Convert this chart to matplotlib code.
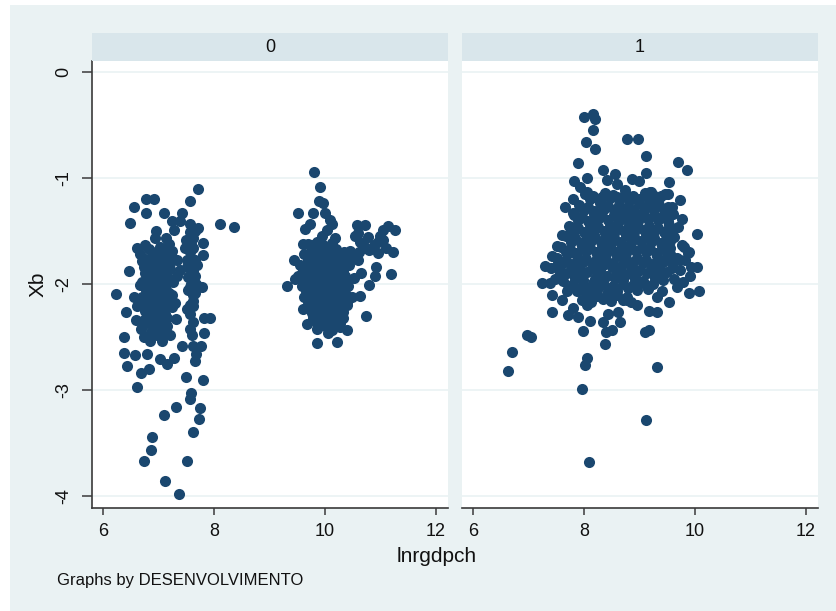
import matplotlib
matplotlib.use("Agg")
import matplotlib.pyplot as plt
from matplotlib.patches import Rectangle

# ---------------- data ----------------
panel_labels = ["0", "1"]
x_ticks = [6, 8, 10, 12]
y_ticks = [0, -1, -2, -3, -4]
x_title = "lnrgdpch"
y_title = "Xb"
note_text = "Graphs by DESENVOLVIMENTO"

# panel "0": low-income cluster (edges / outliers)
x0_left = [7.72, 6.77, 6.92, 7.57, 6.56, 6.78, 7.10, 7.42, 6.49, 8.11, 8.36, 7.24, 7.39, 7.57,
           7.72, 7.27, 6.95, 6.94, 7.14, 7.57, 7.63, 7.81, 6.62, 6.76, 6.82, 7.03, 7.24, 7.48,
           7.63, 7.81, 6.76, 6.97, 7.15, 7.33, 7.51, 7.66, 6.85, 7.03, 7.21, 6.46, 7.39, 6.79,
           6.97, 7.15, 7.33, 7.54, 7.66, 6.67, 6.85, 7.15, 7.57, 7.78, 6.23, 6.55, 6.70, 6.85,
           7.06, 7.24, 7.63, 6.61, 6.79, 6.97, 7.15, 7.30, 7.57, 7.63, 6.41, 6.79, 6.97, 6.59,
           6.73, 6.91, 7.03, 7.32, 7.62, 7.82, 7.93, 7.57, 7.82, 6.38, 6.73, 6.97, 7.21, 7.60,
           6.85, 7.09, 7.06, 7.43, 7.63, 7.76, 6.37, 6.58, 6.79, 6.44, 7.03, 7.15, 7.27, 7.68,
           7.66, 6.68, 6.82, 6.62, 7.50, 7.80, 7.59, 7.57, 7.31, 7.75, 7.73, 7.09, 7.63, 6.89,
           6.87, 6.73, 7.52, 7.11, 7.37]
y0_left = [-1.10, -1.20, -1.20, -1.22, -1.27, -1.33, -1.33, -1.33, -1.42, -1.43, -1.46, -1.41, -1.41, -1.43,
           -1.47, -1.49, -1.50, -1.57, -1.57, -1.51, -1.57, -1.61, -1.66, -1.63, -1.67, -1.65, -1.69, -1.66,
           -1.66, -1.73, -1.76, -1.74, -1.76, -1.77, -1.77, -1.77, -1.84, -1.84, -1.80, -1.88, -1.87, -1.93,
           -1.92, -1.92, -1.92, -1.93, -1.92, -2.01, -2.01, -1.99, -2.03, -2.03, -2.09, -2.12, -2.12, -2.10,
           -2.10, -2.10, -2.10, -2.21, -2.21, -2.20, -2.18, -2.18, -2.20, -2.21, -2.26, -2.29, -2.29, -2.34,
           -2.38, -2.36, -2.37, -2.33, -2.36, -2.32, -2.32, -2.42, -2.46, -2.50, -2.50, -2.48, -2.48, -2.48,
           -2.54, -2.47, -2.54, -2.58, -2.58, -2.58, -2.65, -2.67, -2.66, -2.77, -2.71, -2.75, -2.70, -2.66,
           -2.73, -2.84, -2.80, -2.97, -2.88, -2.91, -3.03, -3.08, -3.16, -3.17, -3.27, -3.24, -3.40, -3.44,
           -3.57, -3.67, -3.67, -3.86, -3.98]
# panel "0": low-income cluster (dense interior)
x0_core = [6.66, 6.74, 6.70, 6.78, 6.72, 6.80, 6.68, 6.88, 6.92, 6.86, 6.94, 6.88, 6.96, 6.90,
           7.02, 7.08, 7.04, 7.10, 7.02, 7.08, 7.04, 7.12, 7.18, 7.22, 7.20, 7.26, 7.18, 7.24,
           7.16, 7.50, 7.56, 7.52, 7.60, 7.54, 7.62, 7.56, 7.66, 7.70, 7.68,
           6.70, 6.76, 6.74, 6.70, 6.76, 6.74, 6.84, 6.90, 6.82, 6.92, 6.84, 6.92, 6.86,
           6.98, 7.00, 6.98, 7.00, 6.96, 7.00, 7.02, 7.12, 7.14, 7.10, 7.14, 7.12, 7.12, 7.16,
           7.58, 7.60, 7.62, 7.58, 7.66, 7.52]
y0_core = [-1.72, -1.84, -1.98, -2.06, -2.18, -2.30, -2.42, -1.70, -1.80, -1.94, -2.04, -2.16, -2.26, -2.40,
           -1.68, -1.78, -1.90, -2.02, -2.14, -2.24, -2.36, -2.44, -1.62, -1.72, -1.86, -1.98, -2.08, -2.22,
           -2.32, -1.58, -1.70, -1.84, -1.96, -2.06, -2.16, -2.28, -1.50, -1.82, -2.00,
           -1.78, -1.90, -2.02, -2.14, -2.25, -2.34, -1.76, -1.88, -2.08, -2.10, -2.24, -2.32, -2.45,
           -1.70, -1.84, -1.97, -2.08, -2.16, -2.32, -2.42, -1.70, -1.84, -1.95, -2.06, -2.16, -2.28, -2.40,
           -1.62, -1.76, -1.88, -2.00, -2.08, -2.24]
# panel "0": high-income cluster (edges / outliers)
x0_right = [9.81, 9.91, 9.90, 9.97, 9.52, 9.79, 10.00, 10.09, 10.12, 9.73, 9.64, 10.03, 10.57, 10.72,
            11.14, 11.26, 11.05, 11.00, 10.60, 10.78, 9.94, 10.18, 9.61, 9.79, 10.63, 10.72, 10.88,
            11.11, 11.23, 10.96, 10.45, 10.51, 10.12, 10.30, 9.45, 10.60, 10.66, 10.92, 10.90, 11.20,
            9.31, 9.46, 9.61, 10.80, 10.64, 9.61, 10.74, 9.67, 9.85, 10.06, 10.21, 10.39,
            10.55, 10.68, 10.62, 10.80, 10.95, 11.05]
y0_right = [-0.94, -1.08, -1.22, -1.24, -1.33, -1.33, -1.33, -1.40, -1.43, -1.43, -1.48, -1.49, -1.44, -1.44,
            -1.45, -1.49, -1.49, -1.55, -1.52, -1.56, -1.55, -1.57, -1.62, -1.63, -1.60, -1.66, -1.63,
            -1.66, -1.70, -1.71, -1.69, -1.74, -1.71, -1.74, -1.77, -1.77, -1.90, -1.84, -1.92, -1.91,
            -2.02, -1.95, -1.84, -2.01, -2.11, -2.24, -2.30, -2.38, -2.56, -2.46, -2.55, -2.43,
            -1.55, -1.62, -1.70, -1.68, -1.60, -1.58]
# panel "0": high-income cluster (dense interior)
x0_hcore = [9.70, 9.85, 9.97, 10.13,
            9.63, 9.75, 9.91, 10.03, 10.19, 10.35,
            9.56, 9.71, 9.83, 9.99, 10.11, 10.27, 10.43,
            9.52, 9.67, 9.79, 9.95, 10.07, 10.23, 10.37, 10.52,
            9.58, 9.73, 9.85, 10.01, 10.13, 10.29, 10.41,
            9.63, 9.75, 9.91, 10.03, 10.19, 10.31, 10.48,
            9.70, 9.85, 9.97, 10.13, 10.25, 10.40,
            9.78, 9.93, 10.05, 10.21, 10.33,
            9.86, 10.01, 10.13, 10.28,
            9.77, 9.91, 10.05, 10.20,
            9.69, 9.83, 9.97, 10.11, 10.26, 10.42,
            9.60, 9.76, 9.90, 10.04, 10.18, 10.33,
            9.62, 9.80, 9.93, 10.08, 10.21, 10.36,
            9.66, 9.79, 9.94, 10.07, 10.22, 10.36,
            9.70, 9.83, 9.97, 10.11, 10.25, 10.40,
            9.77, 9.91, 10.05, 10.19, 10.33,
            9.85, 9.99, 10.13, 10.27]
y0_hcore = [-1.62, -1.60, -1.63, -1.61,
            -1.72, -1.70, -1.73, -1.71, -1.73, -1.70,
            -1.82, -1.80, -1.83, -1.81, -1.83, -1.80, -1.82,
            -1.92, -1.90, -1.93, -1.91, -1.93, -1.90, -1.92, -1.94,
            -2.02, -2.00, -2.03, -2.01, -2.03, -2.00, -2.02,
            -2.12, -2.10, -2.13, -2.11, -2.13, -2.10, -2.12,
            -2.22, -2.20, -2.23, -2.21, -2.23, -2.20,
            -2.32, -2.30, -2.33, -2.31, -2.32,
            -2.42, -2.40, -2.43, -2.41,
            -1.67, -1.66, -1.68, -1.67,
            -1.77, -1.76, -1.78, -1.77, -1.76, -1.78,
            -1.87, -1.86, -1.88, -1.87, -1.86, -1.88,
            -1.97, -1.96, -1.98, -1.97, -1.96, -1.98,
            -2.07, -2.06, -2.08, -2.07, -2.06, -2.08,
            -2.17, -2.16, -2.18, -2.17, -2.16, -2.18,
            -2.27, -2.26, -2.28, -2.27, -2.26,
            -2.37, -2.36, -2.38, -2.37]

# panel "1": edges / outliers
x1_edge = [8.00, 8.16, 8.20, 8.17, 8.04, 8.20, 8.77, 8.97, 9.11, 7.90, 8.35, 8.56, 9.11, 7.82,
           8.05, 8.86, 9.00, 7.93, 8.05, 8.41, 8.59, 8.74, 9.19, 7.80, 7.65, 8.17, 8.32, 8.59,
           7.81, 7.93, 7.84, 7.75, 7.60, 7.51, 7.42, 7.77, 9.69, 9.85, 9.53, 9.21, 9.38, 9.52,
           9.73, 9.31, 9.58, 9.76, 9.47, 10.04, 9.53, 9.76, 9.89, 9.56, 7.30, 7.24, 7.39, 7.54,
           7.57, 7.42, 7.60, 7.69, 7.42, 7.72, 7.90, 7.81, 8.05, 8.10, 7.99, 6.97, 7.04, 6.70,
           6.63, 8.34, 8.40, 8.50, 8.65, 8.38, 8.44, 8.62, 8.05, 8.02, 7.96, 8.09, 9.11, 9.31,
           9.10, 9.18, 9.18, 9.31, 8.95, 8.77, 8.11, 7.99, 9.89, 10.08, 9.54, 9.31, 10.03, 9.91,
           9.79, 9.67, 9.56, 9.88, 9.73]
y1_edge = [-0.42, -0.40, -0.44, -0.55, -0.66, -0.73, -0.63, -0.63, -0.79, -0.86, -0.92, -0.96, -0.95, -1.03,
           -1.00, -1.01, -1.03, -1.08, -1.13, -1.02, -1.06, -1.11, -1.13, -1.20, -1.27, -1.18, -1.18, -1.18,
           -1.33, -1.27, -1.46, -1.46, -1.54, -1.64, -1.74, -1.70, -0.85, -0.92, -1.04, -1.13, -1.17, -1.15,
           -1.21, -1.25, -1.27, -1.39, -1.38, -1.53, -1.54, -1.63, -1.70, -1.72, -1.83, -1.99, -1.99, -1.80,
           -1.90, -2.10, -2.15, -2.07, -2.26, -2.29, -2.31, -2.23, -2.20, -2.35, -2.44, -2.48, -2.50, -2.64,
           -2.82, -2.36, -2.45, -2.43, -2.36, -2.57, -2.28, -2.26, -2.70, -2.76, -2.99, -3.68, -3.28, -2.78,
           -2.45, -2.43, -2.25, -2.26, -2.20, -2.15, -2.09, -2.06, -2.08, -2.07, -2.17, -2.12, -1.84, -1.92,
           -1.98, -2.03, -1.73, -1.71, -1.77]
# panel "1": dense interior
x1_core = [8.02, 8.17, 8.38, 8.53, 8.74, 8.89, 9.10, 9.25, 9.46,
           7.91, 8.07, 8.28, 8.43, 8.64, 8.79, 9.00, 9.15, 9.36, 9.51,
           7.82, 7.97, 8.18, 8.33, 8.54, 8.69, 8.90, 9.05, 9.26, 9.41, 9.61,
           7.73, 7.89, 8.10, 8.25, 8.46, 8.61, 8.82, 8.97, 9.18, 9.33, 9.54, 9.69,
           7.67, 7.83, 8.04, 8.19, 8.40, 8.55, 8.76, 8.91, 9.12, 9.27, 9.48, 9.63,
           7.59, 7.75, 7.96, 8.11, 8.32, 8.47, 8.68, 8.83, 9.04, 9.19, 9.40, 9.55, 9.80,
           7.51, 7.67, 7.88, 8.03, 8.24, 8.39, 8.60, 8.75, 8.96, 9.11, 9.32, 9.47, 9.68, 9.83,
           7.41, 7.57, 7.78, 7.93, 8.14, 8.29, 8.50, 8.65, 8.86, 9.01, 9.22, 9.37, 9.58, 9.73, 9.93,
           7.47, 7.63, 7.84, 7.99, 8.20, 8.35, 8.56, 8.71, 8.92, 9.07, 9.28, 9.43, 9.63,
           7.71, 7.87, 8.08, 8.23, 8.44, 8.59, 8.80, 8.95, 9.16, 9.41,
           7.97, 8.13, 8.34, 8.49, 8.70, 8.85,
           8.10, 8.28, 8.46, 8.64, 8.82, 9.00, 9.18, 9.36,
           8.00, 8.18, 8.36, 8.54, 8.72, 8.90, 9.08, 9.26, 9.44,
           7.90, 8.08, 8.26, 8.44, 8.62, 8.80, 8.98, 9.16, 9.34, 9.52,
           7.82, 8.00, 8.18, 8.36, 8.54, 8.72, 8.90, 9.08, 9.26, 9.44, 9.60,
           7.76, 7.94, 8.12, 8.30, 8.48, 8.66, 8.84, 9.02, 9.20, 9.38, 9.55,
           7.68, 7.86, 8.04, 8.22, 8.40, 8.58, 8.76, 8.94, 9.12, 9.30, 9.48,
           7.62, 7.80, 7.98, 8.16, 8.34, 8.52, 8.70, 8.88, 9.06, 9.24, 9.42, 9.60,
           7.70, 7.88, 8.06, 8.24, 8.42, 8.60, 8.78, 8.96, 9.14, 9.32, 9.50,
           7.80, 7.98, 8.16, 8.34, 8.52, 8.70, 8.88, 9.06, 9.24,
           8.06, 8.24, 8.42, 8.60, 8.78]
y1_core = [-1.15, -1.17, -1.14, -1.16, -1.15, -1.17, -1.14, -1.16, -1.15,
           -1.25, -1.27, -1.24, -1.26, -1.25, -1.27, -1.24, -1.26, -1.25, -1.27,
           -1.35, -1.37, -1.34, -1.36, -1.35, -1.37, -1.34, -1.36, -1.35, -1.37, -1.34,
           -1.45, -1.47, -1.44, -1.46, -1.45, -1.47, -1.44, -1.46, -1.45, -1.47, -1.44, -1.46,
           -1.55, -1.57, -1.54, -1.56, -1.55, -1.57, -1.54, -1.56, -1.55, -1.57, -1.54, -1.56,
           -1.65, -1.67, -1.64, -1.66, -1.65, -1.67, -1.64, -1.66, -1.65, -1.67, -1.64, -1.66, -1.65,
           -1.75, -1.77, -1.74, -1.76, -1.75, -1.77, -1.74, -1.76, -1.75, -1.77, -1.74, -1.76, -1.75, -1.77,
           -1.85, -1.87, -1.84, -1.86, -1.85, -1.87, -1.84, -1.86, -1.85, -1.87, -1.84, -1.86, -1.85, -1.87, -1.84,
           -1.95, -1.97, -1.94, -1.96, -1.95, -1.97, -1.94, -1.96, -1.95, -1.97, -1.94, -1.96, -1.95,
           -2.05, -2.07, -2.04, -2.06, -2.05, -2.07, -2.04, -2.06, -2.05, -2.07,
           -2.15, -2.17, -2.14, -2.16, -2.15, -2.17,
           -1.20, -1.21, -1.19, -1.20, -1.22, -1.20, -1.21, -1.19,
           -1.30, -1.31, -1.29, -1.30, -1.32, -1.30, -1.31, -1.29, -1.30,
           -1.40, -1.41, -1.39, -1.40, -1.42, -1.40, -1.41, -1.39, -1.40, -1.41,
           -1.50, -1.51, -1.49, -1.50, -1.52, -1.50, -1.51, -1.49, -1.50, -1.51, -1.49,
           -1.60, -1.61, -1.59, -1.60, -1.62, -1.60, -1.61, -1.59, -1.60, -1.61, -1.59,
           -1.70, -1.71, -1.69, -1.70, -1.72, -1.70, -1.71, -1.69, -1.70, -1.71, -1.69,
           -1.80, -1.81, -1.79, -1.80, -1.82, -1.80, -1.81, -1.79, -1.80, -1.81, -1.79, -1.80,
           -1.90, -1.91, -1.89, -1.90, -1.92, -1.90, -1.91, -1.89, -1.90, -1.91, -1.89,
           -2.00, -2.01, -1.99, -2.00, -2.02, -2.00, -2.01, -1.99, -2.00,
           -2.10, -2.11, -2.09, -2.10, -2.12]

# ---------------- style ----------------
W, H = 836, 611
BG = "#EAF2F3"
HEAD = "#D9E6EB"
GRID = "#EAF2F3"
MARK = "#1A476F"
AX = "#3a3a3a"
FONT = ["Liberation Sans", "DejaVu Sans"]
plt.rcParams["font.family"] = FONT

fig = plt.figure(figsize=(W / 100, H / 100), dpi=100, facecolor="white")
fig.patches.append(Rectangle((10 / W, 0), 1 - 10 / W, 1 - 5 / H, transform=fig.transFigure,
                             facecolor=BG, edgecolor="none", zorder=-10))

def px_box(l, t, r, b):
    return [l / W, 1 - b / H, (r - l) / W, (b - t) / H]

panels = [
    (panel_labels[0], 92, 448, [x0_left + x0_core + x0_right + x0_hcore, y0_left + y0_core + y0_right + y0_hcore]),
    (panel_labels[1], 462, 818, [x1_edge + x1_core, y1_edge + y1_core]),
]
top, bot, htop = 61, 508, 33
for i, (lab, l, r, (xs, ys)) in enumerate(panels):
    fig.patches.append(Rectangle((l / W, 1 - top / H), (r - l) / W, (top - htop) / H,
                                 transform=fig.transFigure, facecolor=HEAD, edgecolor="none"))
    fig.text((l + r) / 2 / W, 1 - 47 / H, lab, ha="center", va="center", fontsize=13, color="#111111")
    ax = fig.add_axes(px_box(l, top, r, bot))
    ax.set_facecolor("white")
    ax.scatter(xs, ys, s=64, color=MARK, linewidths=0, zorder=3)
    ax.set_xlim(5.80, 12.22)
    ax.set_ylim(-4.113, 0.104)
    ax.set_xticks(x_ticks)
    ax.set_xticklabels([str(t) for t in x_ticks], fontsize=13)
    ax.set_yticks(y_ticks)
    ax.yaxis.grid(True, color=GRID, lw=1.2, zorder=0)
    ax.set_axisbelow(True)
    for s in ["top", "right"]:
        ax.spines[s].set_visible(False)
    ax.spines["bottom"].set_color(AX)
    ax.spines["bottom"].set_linewidth(1.2)
    ax.tick_params(axis="x", length=5, width=1.1, color=AX, pad=6, labelcolor="#111111")
    if i == 0:
        ax.spines["left"].set_color(AX)
        ax.spines["left"].set_linewidth(1.2)
        ax.set_yticklabels([str(t) for t in y_ticks], fontsize=13, rotation=90, va="center")
        ax.tick_params(axis="y", length=7, width=1.1, color=AX, pad=7, labelcolor="#111111")
    else:
        ax.spines["left"].set_visible(False)
        ax.tick_params(axis="y", length=0, labelleft=False)

fig.text(437 / W, 1 - 557 / H, x_title, ha="center", va="center", fontsize=15, color="#111111")
fig.text(38 / W, 1 - 284 / H, y_title, ha="center", va="center", rotation=90, fontsize=15, color="#111111")
fig.text(57 / W, 1 - 580 / H, note_text, ha="left", va="center", fontsize=12, color="#111111")

fig.savefig("out.png", dpi=100, facecolor=fig.get_facecolor())
